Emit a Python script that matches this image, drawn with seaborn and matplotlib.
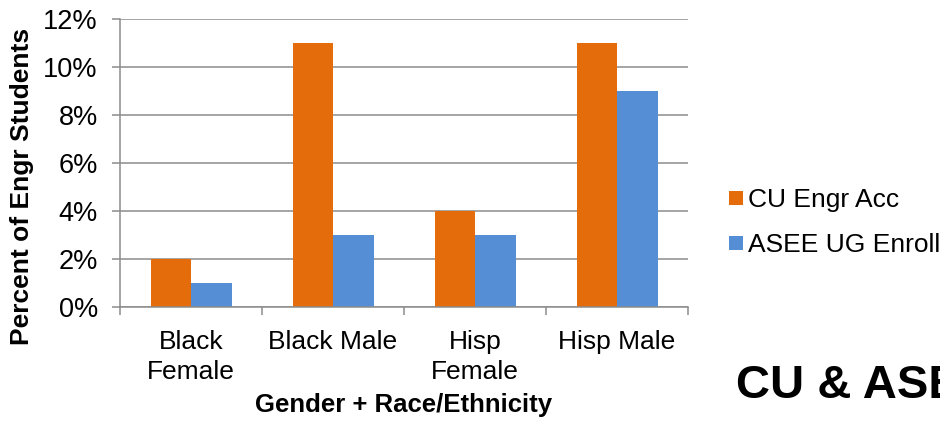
import matplotlib
matplotlib.use("Agg")
import matplotlib.pyplot as plt
from matplotlib.lines import Line2D
from matplotlib.ticker import FuncFormatter, FixedLocator
import seaborn as sns
import pandas as pd

categories = ["Black\nFemale", "Black Male", "Hisp\nFemale", "Hisp Male"]
series_names = ["CU Engr Acc", "ASEE UG Enroll"]
cu_engr_acc = [2, 11, 4, 11]
asee_ug_enroll = [1, 3, 3, 9]
y_ticks = [0, 2, 4, 6, 8, 10, 12]
colors = ["#E46C0A", "#558ED5"]

df = pd.DataFrame({
    "group": categories * 2,
    "series": [series_names[0]] * 4 + [series_names[1]] * 4,
    "pct": cu_engr_acc + asee_ug_enroll,
})

sns.set_style("white")
plt.rcParams["font.family"] = ["Liberation Sans", "DejaVu Sans"]
plt.rcParams["text.color"] = "black"
plt.rcParams["axes.labelcolor"] = "black"
plt.rcParams["xtick.labelcolor"] = "black"
plt.rcParams["ytick.labelcolor"] = "black"

fig = plt.figure(figsize=(9.4, 4.21), dpi=100)
ax = fig.add_axes([0.1277, 0.2708, 0.6043, 0.6841])

sns.barplot(data=df, x="group", y="pct", hue="series", order=categories,
            hue_order=series_names, palette=colors, width=0.57, gap=0,
            saturation=1, ax=ax, legend=False, linewidth=0)

ax.set_xlim(-0.5, 3.5)
ax.set_ylim(0, 12)
ax.yaxis.set_major_locator(FixedLocator(y_ticks))
ax.yaxis.set_major_formatter(FuncFormatter(lambda v, p: f"{v:.0f}%"))
ax.yaxis.grid(True, color="#8C8C8C", linewidth=1.1)
ax.set_axisbelow(True)

for s in ["top", "right"]:
    ax.spines[s].set_visible(False)
for s in ["left", "bottom"]:
    ax.spines[s].set_color("#8C8C8C")
    ax.spines[s].set_linewidth(1.1)

ax.tick_params(axis="y", which="major", left=True, length=6, width=1.1,
               color="#8C8C8C", pad=10, labelsize=19.5)
ax.tick_params(axis="x", which="major", bottom=False, length=0, pad=16.5,
               labelsize=19)
for lbl in ax.get_xticklabels():
    lbl.set_linespacing(1.32)
ax.set_xticks([-0.5, 0.5, 1.5, 2.5, 3.5], minor=True)
ax.tick_params(axis="x", which="minor", bottom=True, length=6, width=1.1,
               color="#8C8C8C")

ax.set_xlabel("Gender + Race/Ethnicity", fontsize=18.5, fontweight="bold")
ax.set_ylabel("Percent of Engr Students", fontsize=19, fontweight="bold")
ax.xaxis.set_label_coords(0.5, -0.3)
ax.yaxis.set_label_coords(-0.1725, 0.418)
ax.yaxis.label.set_va("center")
ax.xaxis.label.set_va("top")

handles = [Line2D([], [], marker="s", linestyle="none", markersize=10,
                  markerfacecolor=c, markeredgewidth=0) for c in colors]
fig.legend(handles, series_names, loc="center left",
           bbox_to_anchor=(0.772, 0.471), frameon=False, fontsize=19,
           handletextpad=0.05, handlelength=0.8, labelspacing=0.8,
           borderpad=0, borderaxespad=0)

fig.text(0.783, 0.083, "CU & ASEE", fontsize=34, fontweight="bold",
         ha="left", va="center")

fig.savefig("out.png", dpi=100)
